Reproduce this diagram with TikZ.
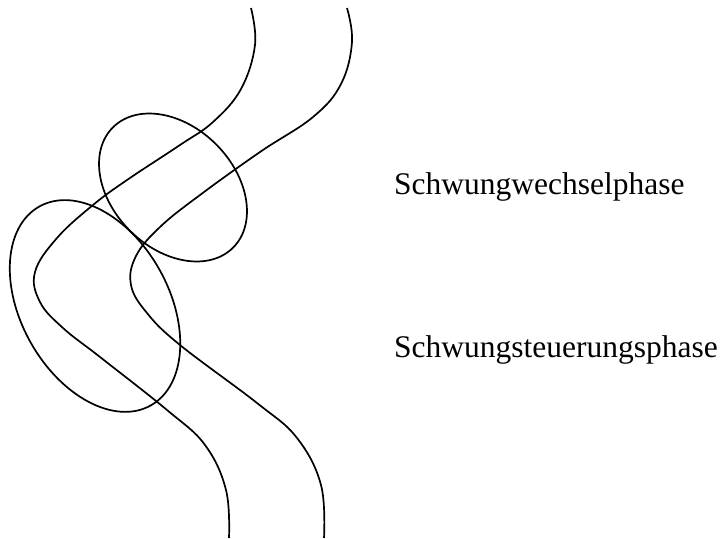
\documentclass[tikz,border=0pt]{standalone}
\usepackage{fontspec}
\setmainfont{Liberation Serif}
\begin{document}
\begin{tikzpicture}[x=1pt,y=-1pt,
  strand/.style={line width=1.7pt, black, line join=round},
  loop/.style={line width=1.7pt, black},
  lbl/.style={anchor=base west, inner sep=0pt, font=\fontsize{31.5}{38}\selectfont}]
\useasboundingbox (0,0) rectangle (725,538);
% strands
\draw[strand] plot[smooth, tension=0.65] coordinates {(251,8) (255,45) (241,89) (213,122) (180,145) (127,180) (93,205) (57,238) (35,272) (40,302) (63,328) (100,357) (167,410) (205,445) (226,490) (229,538)};
\draw[strand] plot[smooth, tension=0.65] coordinates {(347,8) (352,42) (341,84) (313,117) (260,152) (200,195) (160,227) (136,256) (131,285) (147,313) (180,345) (257,403) (297,438) (321,485) (324,538)};
% loops
\coordinate (c1) at (173,187.5);
\coordinate (c2) at (95,306);
\draw[loop, rotate around={-45:(c1)}] (c1) ellipse [x radius=85, y radius=61];
\draw[loop, rotate around={-60.8:(c2)}] (c2) ellipse [x radius=114, y radius=74];
% labels
\node[lbl] (t1) at (394,194) {Schwungwechselphase};
\node[lbl] (t2) at (394,357) {Schwungsteuerungsphase};
\end{tikzpicture}
\end{document}
